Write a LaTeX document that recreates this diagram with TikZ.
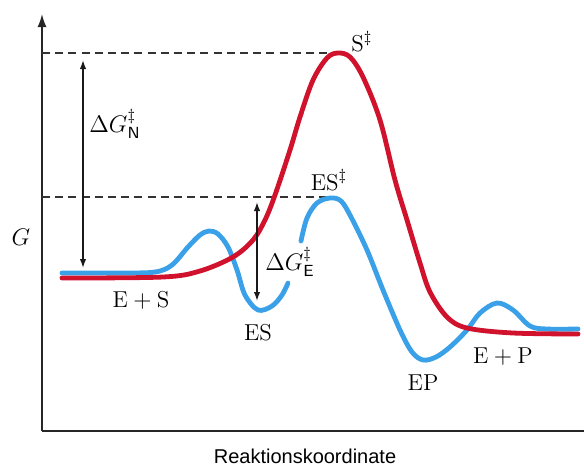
\documentclass[tikz,border=0pt]{standalone}
\usepackage{fontspec}
\newfontfamily\labelsans{Liberation Sans}
\usetikzlibrary{arrows.meta}
\definecolor{cred}{RGB}{208,18,44}
\definecolor{cblue}{RGB}{58,160,232}
\tikzset{
  axisline/.style={line width=0.8pt, black!85},
  dashline/.style={line width=0.75pt, black!80, dash pattern=on 4pt off 2.6pt},
  dimarrow/.style={line width=0.7pt, black!90, {Latex[length=4.5pt,width=3.2pt]}-{Latex[length=4.5pt,width=3.2pt]}},
  curveN/.style={line width=2.4pt, cred, line cap=round},
  curveE/.style={line width=2.4pt, cblue, line cap=round},
  lbl/.style={font=\fontsize{11.5}{13}\selectfont, inner sep=0pt},
}
\begin{document}
\begin{tikzpicture}[x=0.5pt,y=-0.5pt]
\useasboundingbox (0,0) rectangle (584,468);
% axes
\coordinate (O) at (42,431);
\coordinate (Ytop) at (42,14);
\coordinate (Xend) at (584,431);
\draw[axisline] (O) -- (Xend);
\draw[axisline,-{Latex[length=6.5pt,width=4.5pt]}] (O) -- (Ytop);
% dashed levels
\coordinate (dN0) at (42,53);
\coordinate (dN1) at (334,53);
\coordinate (dE0) at (42,197);
\coordinate (dE1) at (328,197);
\draw[dashline] (dN0) -- (dN1);
\draw[dashline] (dE0) -- (dE1);
% blue curve (enzyme catalysed)
\draw[curveE] plot[smooth, tension=0.55] coordinates {
 (62,273) (120,273) (155,272) (172,265) (188,247) (200,235) (209,231) (218,234)
 (228,247) (237,270) (245,295) (258,310) (272,306) (282,295) (288,283)};
\draw[curveE] plot[smooth, tension=0.55] coordinates {
 (301,241) (307,218) (317,203) (330,198) (341,201) (351,217) (367,250) (383,290)
 (400,330) (412,352) (423,360) (436,357) (450,347) (467,330) (480,313) (497,303)
 (513,310) (530,326) (547,329) (578,329)};
% red curve (uncatalysed)
\draw[curveN] plot[smooth, tension=0.55] coordinates {
 (62,278) (163,277) (200,271) (233,257) (253,240) (265,220) (275,195) (290,150)
 (300,117) (313,80) (327,58) (338,53) (350,57) (363,77) (380,120) (395,180)
 (407,220) (420,263) (430,292) (447,317) (467,328) (513,333) (578,334)};
% dimension arrows
\coordinate (aN0) at (83,60);
\coordinate (aN1) at (83,268);
\coordinate (aE0) at (257,202);
\coordinate (aE1) at (257,301);
\draw[dimarrow] (aN0) -- (aN1);
\draw[dimarrow] (aE0) -- (aE1);
% labels
\node[lbl] (G) at (21,237) {$G$};
\node[lbl] (dGN) at (115,124) {$\Delta G^{\ddagger}_{\mathsf{N}}$};
\node[lbl] (dGE) at (290,262) {$\Delta G^{\ddagger}_{\mathsf{E}}$};
\node[lbl] (Sd) at (362,42) {$\mathrm{S}^{\ddagger}$};
\node[lbl] (ESd) at (329,180) {$\mathrm{ES}^{\ddagger}$};
\node[lbl] (ES) at (141,300) {$\mathrm{E+S}$};
\node[lbl] (ESm) at (258,333) {$\mathrm{ES}$};
\node[lbl] (EP) at (423,383) {$\mathrm{EP}$};
\node[lbl] (EpP) at (503,357) {$\mathrm{E+P}$};
\node[font=\labelsans\fontsize{10}{12}\selectfont, inner sep=0pt] (xl) at (305,456) {Reaktionskoordinate};
\end{tikzpicture}
\end{document}
